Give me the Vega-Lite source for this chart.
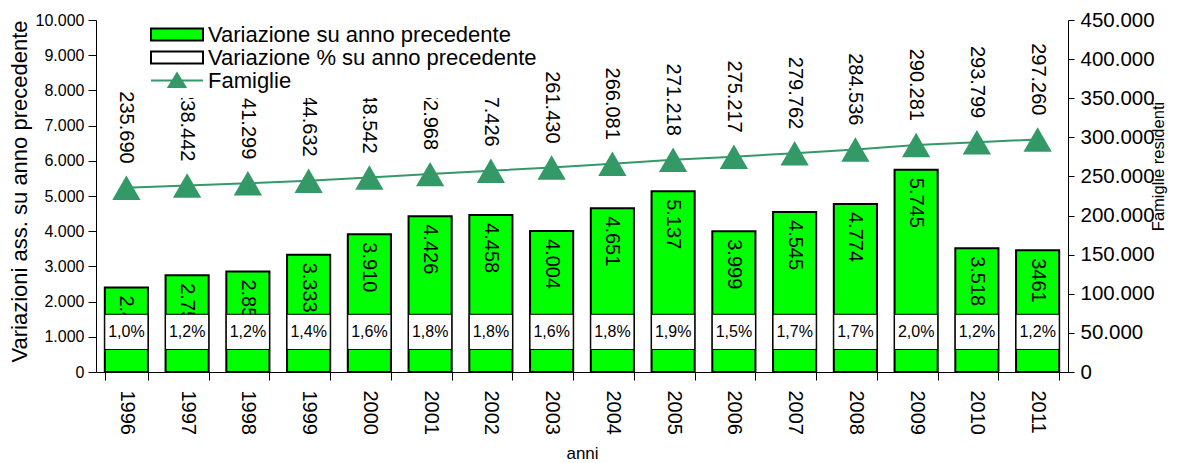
{
  "$schema": "https://vega.github.io/schema/vega-lite/v6.json",
  "width": 972,
  "height": 352,
  "autosize": "none",
  "padding": {"left": 96, "top": 20, "right": 116, "bottom": 91},
  "background": "white",
  "config": {
    "font": "Liberation Sans",
    "locale": {"number": {"decimal": ",", "thousands": ".", "grouping": [3], "currency": ["", " €"]}},
    "view": {"stroke": null},
    "axis": {"grid": false, "domainColor": "black", "tickColor": "black", "labelColor": "black", "titleColor": "black", "titleFontWeight": "normal", "labelFont": "Liberation Sans", "titleFont": "Liberation Sans"}
  },
  "data": {"values": [
    {"anno": 1996, "var": 2404, "pct": 0.010, "fam": 235690},
    {"anno": 1997, "var": 2752, "pct": 0.012, "fam": 238442},
    {"anno": 1998, "var": 2857, "pct": 0.012, "fam": 241299},
    {"anno": 1999, "var": 3333, "pct": 0.014, "fam": 244632},
    {"anno": 2000, "var": 3910, "pct": 0.016, "fam": 248542},
    {"anno": 2001, "var": 4426, "pct": 0.018, "fam": 252968},
    {"anno": 2002, "var": 4458, "pct": 0.018, "fam": 257426},
    {"anno": 2003, "var": 4004, "pct": 0.016, "fam": 261430},
    {"anno": 2004, "var": 4651, "pct": 0.018, "fam": 266081},
    {"anno": 2005, "var": 5137, "pct": 0.019, "fam": 271218},
    {"anno": 2006, "var": 3999, "pct": 0.015, "fam": 275217},
    {"anno": 2007, "var": 4545, "pct": 0.017, "fam": 279762},
    {"anno": 2008, "var": 4774, "pct": 0.017, "fam": 284536},
    {"anno": 2009, "var": 5745, "pct": 0.020, "fam": 290281},
    {"anno": 2010, "var": 3518, "pct": 0.012, "fam": 293799},
    {"anno": 2011, "var": 3461, "pct": 0.012, "fam": 297260}
  ]},
  "encoding": {
    "x": {
      "field": "anno", "type": "ordinal", "title": "anni",
      "scale": {"paddingInner": 0.29, "paddingOuter": 0.145},
      "axis": {"labelAngle": 90, "labelFontSize": 20, "labelPadding": 10, "tickSize": 8, "tickBand": "extent", "titleFontSize": 17, "titleY": 73, "titleBaseline": "top"}
    }
  },
  "layer": [
    {
      "encoding": {
        "y": {
          "field": "var", "type": "quantitative",
          "scale": {"domain": [0, 10000], "nice": false},
          "axis": {"orient": "left", "title": "Variazioni ass. su anno precedente", "values": [0,1000,2000,3000,4000,5000,6000,7000,8000,9000,10000], "format": ",d", "labelFontSize": 16, "tickSize": 8, "labelPadding": 4, "titleFontSize": 22, "titleAngle": 270, "titleBaseline": "middle", "titleX": -77, "titleY": 171}
        }
      },
      "layer": [
        {
          "mark": {"type": "bar", "stroke": "black", "strokeWidth": 2},
          "encoding": {
            "fill": {
              "datum": "Variazione su anno precedente", "type": "nominal",
              "scale": {"domain": ["Variazione su anno precedente", "Variazione % su anno precedente", "Famiglie"], "range": ["#00ff00", "#ffffff", "#339966"]},
              "legend": {
                "orient": "none", "legendX": 40, "legendY": -1, "title": null,
                "fillColor": "white", "padding": 6,
                "labelFontSize": 22, "labelFont": "Liberation Sans", "labelColor": "black", "labelLimit": 0,
                "symbolSize": 144, "symbolOffset": 24, "labelOffset": 20, "rowPadding": 0, "clipHeight": 19, "symbolStrokeWidth": 2,
                "encoding": {
                  "symbols": {
                    "shape": {"condition": {"test": "datum.value === 'Famiglie'", "value": "M-4.33,0H4.33M-1.4,1.1L0,-1.2L1.4,1.1Z"}, "value": "M-4.33,-1H4.33V1H-4.33Z"},
                    "stroke": {"condition": {"test": "datum.value === 'Famiglie'", "value": "#339966"}, "value": "black"},
                    "strokeWidth": {"value": 2},
                    "opacity": {"value": 1}
                  }
                }
              }
            }
          }
        },
        {
          "transform": [{"filter": "datum.anno != 2011"}],
          "mark": {"type": "text", "angle": 90, "align": "left", "baseline": "middle", "dx": 8, "fontSize": 20, "color": "black"},
          "encoding": {"text": {"field": "var", "type": "quantitative", "format": ",d"}}
        },
        {
          "transform": [{"filter": "datum.anno == 2011"}],
          "mark": {"type": "text", "angle": 90, "align": "left", "baseline": "middle", "dx": 8, "fontSize": 20, "color": "black"},
          "encoding": {"text": {"field": "var", "type": "quantitative", "format": "d"}}
        },
        {
          "mark": {"type": "bar", "stroke": "black", "strokeWidth": 1},
          "encoding": {
            "y": {"datum": 640, "type": "quantitative"},
            "y2": {"datum": 1640},
            "fill": {"datum": "Variazione % su anno precedente", "type": "nominal"}
          }
        },
        {
          "mark": {"type": "text", "align": "center", "baseline": "middle", "fontSize": 16, "color": "black"},
          "encoding": {
            "y": {"datum": 1140, "type": "quantitative"},
            "text": {"field": "pct", "type": "quantitative", "format": ".1%"}
          }
        }
      ]
    },
    {
      "encoding": {
        "y": {
          "field": "fam", "type": "quantitative",
          "scale": {"domain": [0, 450000], "nice": false},
          "axis": {"orient": "right", "title": "Famiglie residenti", "values": [0,50000,100000,150000,200000,250000,300000,350000,400000,450000], "format": ",d", "labelFontSize": 20.5, "tickSize": 6, "labelPadding": 6, "titleFontSize": 16.5, "titleAngle": 270, "titleBaseline": "middle", "titleX": 90, "titleY": 146}
        }
      },
      "layer": [
        {"mark": {"type": "line", "color": "#339966", "strokeWidth": 2}, "encoding": {}},
        {
          "mark": {"type": "point", "shape": "triangle-up", "filled": true, "size": 800, "opacity": 1, "strokeWidth": 0},
          "encoding": {"fill": {"datum": "Famiglie", "type": "nominal"}}
        },
        {
          "mark": {"type": "text", "angle": 90, "align": "right", "baseline": "middle", "dx": -24, "fontSize": 20, "color": "black"},
          "encoding": {"text": {"field": "fam", "type": "quantitative", "format": ",d"}}
        }
      ]
    }
  ],
  "resolve": {"scale": {"y": "independent"}}
}
